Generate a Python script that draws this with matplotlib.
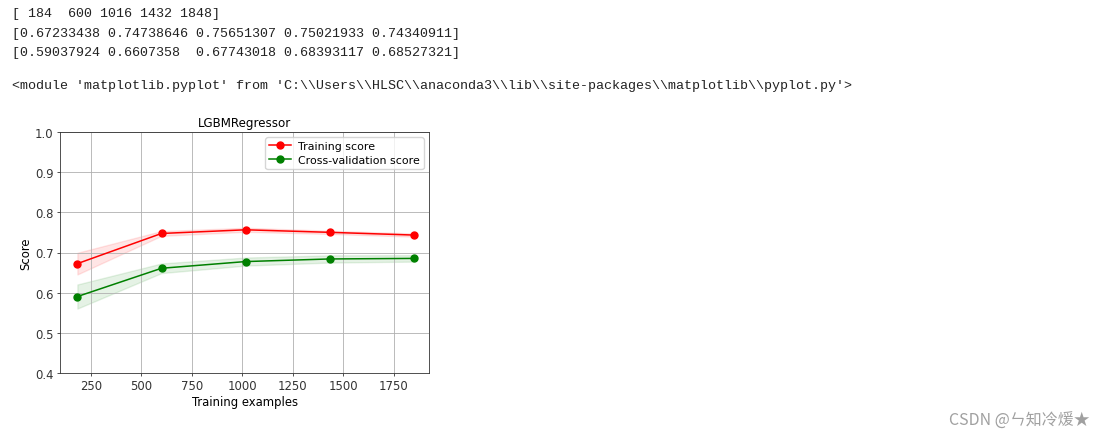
import numpy as np
import matplotlib
matplotlib.use("Agg")
import matplotlib.pyplot as plt

W, H = 1106, 439
train_sizes = [184, 600, 1016, 1432, 1848]
train_mean = [0.67233438, 0.74738646, 0.75651307, 0.75021933, 0.74340911]
test_mean = [0.59037924, 0.6607358, 0.67743018, 0.68393117, 0.68527321]
train_std = [0.027, 0.006, 0.005, 0.004, 0.004]
test_std = [0.030, 0.012, 0.010, 0.009, 0.008]

console_lines = [
    "[ 184  600 1016 1432 1848]",
    "[0.67233438 0.74738646 0.75651307 0.75021933 0.74340911]",
    "[0.59037924 0.6607358  0.67743018 0.68393117 0.68527321]",
]
module_line = "<module 'matplotlib.pyplot' from 'C:\\\\Users\\\\HLSC\\\\anaconda3\\\\lib\\\\site-packages\\\\matplotlib\\\\pyplot.py'>"
title = "LGBMRegressor"
watermark = "CSDN @ㄣ知冷煖★"

fig = plt.figure(figsize=(W / 100, H / 100), dpi=100)
fig.patch.set_facecolor("white")

def px(x, y):
    return x / W, 1 - y / H

mono = dict(family="Liberation Mono", fontsize=9.6, color="#222222", va="center", ha="left")
for i, line in enumerate(console_lines):
    fig.text(*px(12, 14 + i * 19.5), line, **mono)
fig.text(*px(12, 86), module_line, **mono)

# axes: x 60-429, y 133-374
ax = fig.add_axes([60 / W, 1 - 374 / H, (429 - 60) / W, (374 - 133) / H])
fs = 8.4
tr_m = np.array(train_mean); tr_s = np.array(train_std)
te_m = np.array(test_mean); te_s = np.array(test_std)
ax.fill_between(train_sizes, tr_m - tr_s, tr_m + tr_s, alpha=0.1, color="r")
ax.fill_between(train_sizes, te_m - te_s, te_m + te_s, alpha=0.1, color="g")
ax.plot(train_sizes, train_mean, "o-", color="r", label="Training score", lw=1.1, ms=5)
ax.plot(train_sizes, test_mean, "o-", color="g", label="Cross-validation score", lw=1.1, ms=5)
ax.set_ylim(0.4, 1.0)
ax.set_xlim(98, 1923)
ax.set_xticks([250, 500, 750, 1000, 1250, 1500, 1750])
ax.grid(True, color="#b0b0b0", lw=0.6)
ax.tick_params(labelsize=fs, length=2.5, width=0.6, pad=2, colors="#333333")
for s in ax.spines.values():
    s.set_linewidth(0.6)
    s.set_color("#333333")
ax.set_title(title, fontsize=fs + 0.2, pad=4)
ax.set_xlabel("Training examples", fontsize=fs, labelpad=2)
ax.set_ylabel("Score", fontsize=fs, labelpad=2)
ax.legend(loc="best", fontsize=7.9, handlelength=2, borderpad=0.35, labelspacing=0.35,
          handletextpad=0.6)

fig.text(*px(1090, 421), watermark, family=["Noto Sans CJK SC", "DejaVu Sans"],
         fontsize=11.5, color="#a0a0a0", ha="right", va="center")

fig.savefig("out.png", dpi=100)
